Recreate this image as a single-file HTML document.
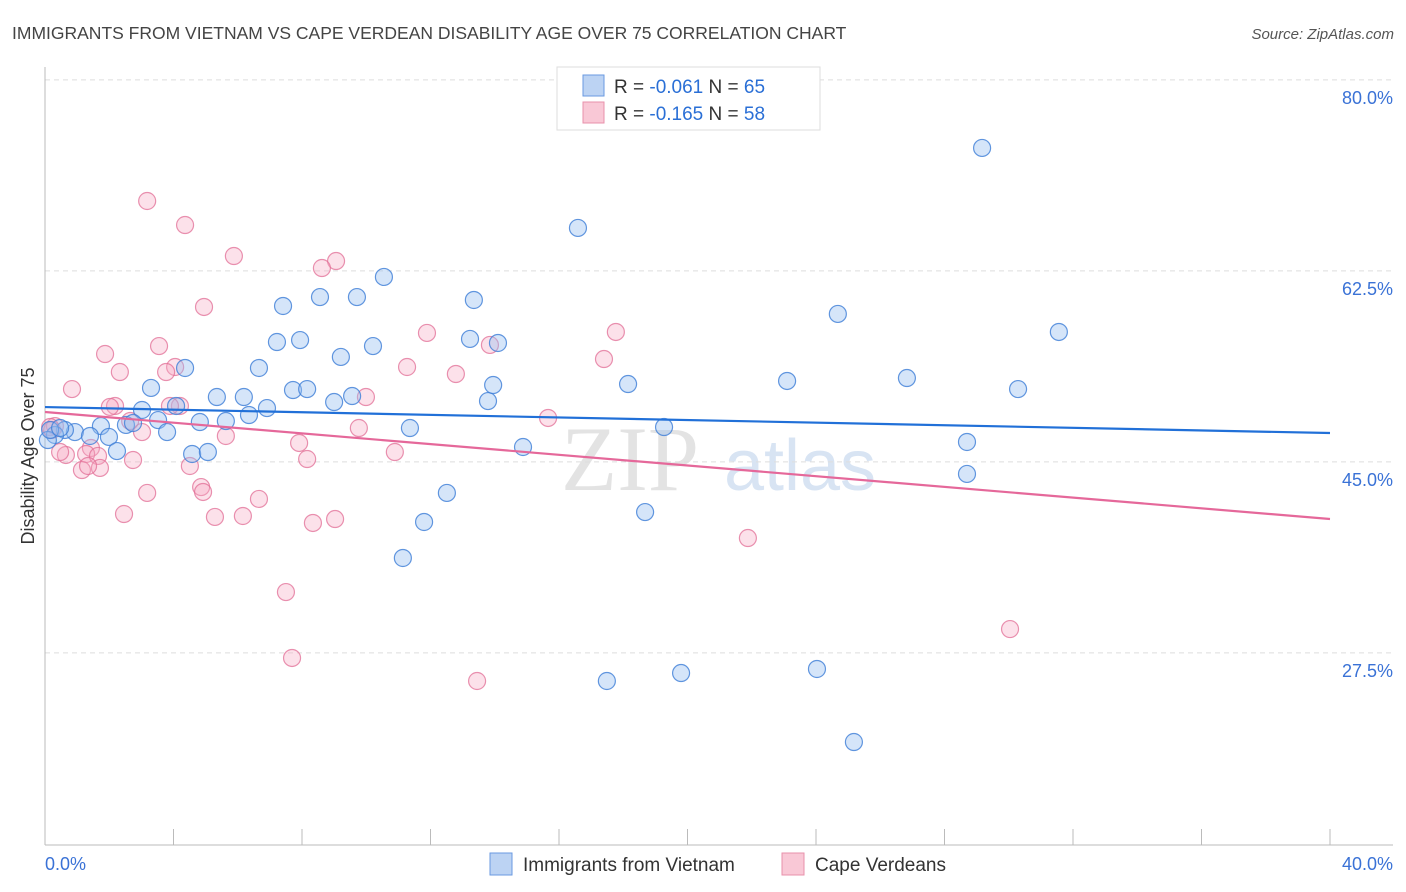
<!DOCTYPE html>
<html><head><meta charset="utf-8"><style>
body{margin:0;background:#fff;font-family:"Liberation Sans",sans-serif;}
svg{display:block}
</style></head><body>
<svg id="chart" width="1406" height="892" viewBox="0 0 1406 892">
<text x="12" y="39" font-size="17.5" fill="#444">IMMIGRANTS FROM VIETNAM VS CAPE VERDEAN DISABILITY AGE OVER 75 CORRELATION CHART</text>
<text x="1394" y="39" font-size="15" fill="#555" font-style="italic" text-anchor="end">Source: ZipAtlas.com</text>
<g>
<text x="630" y="490" font-size="92" fill="#ddd" font-family="Liberation Serif,serif" text-anchor="middle" opacity="0.8">ZIP</text>
<text x="800" y="490" font-size="72" fill="#c8d9ef" text-anchor="middle" opacity="0.7">atlas</text>
</g>
<g id="grid"></g>
<g id="axes"></g>
<g id="marks"></g>
<g>
<rect x="557" y="67" width="263" height="63" fill="#fff" stroke="#ddd"/>
<rect x="583" y="75" width="21" height="21" fill="#bcd3f3" stroke="#6a9ae0"/>
<rect x="583" y="102" width="21" height="21" fill="#f9c8d6" stroke="#e891ab"/>
<text x="614" y="93" font-size="19" fill="#333">R = <tspan fill="#2a6fd6">-0.061</tspan>    N = <tspan fill="#2a6fd6">65</tspan></text>
<text x="614" y="120" font-size="19" fill="#333">R = <tspan fill="#2a6fd6">-0.165</tspan>    N = <tspan fill="#2a6fd6">58</tspan></text>
</g>
<g>
<rect x="490" y="853" width="22" height="22" fill="#bcd3f3" stroke="#6a9ae0"/>
<text x="523" y="871" font-size="19" fill="#333">Immigrants from Vietnam</text>
<rect x="782" y="853" width="22" height="22" fill="#f9c8d6" stroke="#e891ab"/>
<text x="815" y="871" font-size="19" fill="#333">Cape Verdeans</text>
</g>
</svg>
<script>
const yTicks=[80,62.5,45,27.5];
const yTickLabels=["80.0%","62.5%","45.0%","27.5%"];
const xTickLabels=["0.0%","40.0%"];
const blueX=[29.17,16.59,24.68,31.56,7.41,8.56,9.71,10.55,13.35,7.22,7.94,9.21,10.21,13.23,14.10,3.30,4.36,5.35,6.19,6.66,6.91,7.72,8.16,9.00,9.56,11.36,13.79,13.95,18.15,23.10,26.83,30.29,28.70,28.70,14.88,19.27,18.68,12.51,11.80,11.14,17.49,19.80,24.03,25.18,3.02,3.52,4.08,4.82,5.63,6.35,1.74,1.99,2.52,2.74,3.80,2.24,4.58,5.07,0.93,0.62,1.40,0.31,0.09,0.16,0.47];
const blueY=[75.32,67.99,60.11,58.46,60.84,61.66,61.66,63.50,61.39,57.54,57.72,56.17,57.17,57.82,57.45,53.33,55.16,52.50,52.50,55.16,51.49,53.14,53.23,52.04,52.59,49.66,52.13,53.60,53.69,53.97,54.24,53.23,48.38,45.45,47.92,49.75,41.96,43.71,41.05,37.75,26.48,27.21,27.58,20.89,51.31,50.39,51.68,50.21,50.30,50.85,49.84,48.84,49.94,50.12,49.29,47.55,47.28,47.46,49.29,49.48,48.93,49.02,48.56,49.48,49.66];
const pinkX=[3.18,4.36,5.88,9.06,8.62,4.95,11.89,17.77,13.85,17.40,1.87,3.55,2.33,4.05,3.77,11.27,12.79,0.84,2.18,2.02,4.20,3.89,9.99,15.66,9.77,2.65,3.02,5.63,7.91,8.16,10.89,1.43,2.74,4.51,1.28,1.65,1.71,1.15,0.65,0.47,0.22,0.31,4.86,4.92,3.18,6.66,2.46,5.29,6.16,8.34,9.03,21.88,7.50,30.04,7.69,13.45,0.16,1.34];
const pinkY=[70.46,68.26,65.42,64.96,64.32,60.75,58.37,58.46,57.27,55.98,56.44,57.17,54.79,55.25,54.79,55.25,54.61,53.23,51.68,51.59,51.68,51.68,52.50,50.58,49.66,50.30,49.29,48.93,48.29,46.82,47.46,47.83,46.73,46.18,47.28,47.10,46.00,45.81,47.19,47.46,49.48,49.84,44.25,43.80,43.71,43.16,41.78,41.51,41.60,40.96,41.32,39.58,34.63,31.24,28.59,26.48,49.75,46.18];
const blueTrend=[51.58,49.2];
const pinkTrend=[51.13,41.32];
const xDomain=[0,40];
const NS="http://www.w3.org/2000/svg";
function sx(v){return 45+(v-xDomain[0])*(1285/(xDomain[1]-xDomain[0]));}
function sy(v){return 970-v*10.914;}
function mk(tag,attrs,parent){const e=document.createElementNS(NS,tag);for(const k in attrs)e.setAttribute(k,attrs[k]);parent.appendChild(e);return e;}
const grid=document.getElementById('grid'),axes=document.getElementById('axes'),marks=document.getElementById('marks');
yTicks.forEach((t,i)=>{
  const l=mk('line',{x1:45,x2:1393,y1:sy(t)-17,y2:sy(t)-17,stroke:'#ddd','stroke-dasharray':'5,4'},grid);
  
  
  const tx=mk('text',{x:1393,y:sy(t)+7,'font-size':18,fill:'#3a72d6','text-anchor':'end'},axes);
  tx.textContent=yTickLabels[i];
  
  
});
const la=mk('line',{x1:45,x2:45,y1:67,y2:845,stroke:'#bbb'},axes);


const ba=mk('line',{x1:45,x2:1393,y1:845,y2:845,stroke:'#bbb'},axes);


for(let k=1;k<=10;k++){
  const t=mk('line',{x1:sx(k*4),x2:sx(k*4),y1:829,y2:845,stroke:'#bbb'},axes);
  
  
}
const xl0=mk('text',{x:45,y:870,'font-size':18,fill:'#3a72d6'},axes);xl0.textContent=xTickLabels[0];


const xl1=mk('text',{x:1393,y:870,'font-size':18,fill:'#3a72d6','text-anchor':'end'},axes);xl1.textContent=xTickLabels[1];


const yt=mk('text',{x:34,y:456,'font-size':18,fill:'#333','text-anchor':'middle',transform:'rotate(-90 34 456)'},axes);
yt.textContent='Disability Age Over 75';


function pts(xs,ys,fill,stroke,name){
  xs.forEach((x,i)=>{
    const c=mk('circle',{cx:sx(x),cy:sy(ys[i]),r:8.5,fill:fill,stroke:stroke,'stroke-width':1.2},marks);
    
    
  });
}
pts(pinkX,pinkY,'rgba(246,170,195,0.35)','rgba(226,110,150,0.75)','cape-verdean-point');
pts(blueX,blueY,'rgba(150,190,240,0.4)','rgba(60,125,215,0.8)','vietnam-point');
const bl=mk('line',{x1:sx(xDomain[0]),x2:sx(xDomain[1]),y1:sy(blueTrend[0]),y2:sy(blueTrend[1]),stroke:'#2170d8','stroke-width':2.2},marks);


const pl=mk('line',{x1:sx(xDomain[0]),x2:sx(xDomain[1]),y1:sy(pinkTrend[0]),y2:sy(pinkTrend[1]),stroke:'#e5689a','stroke-width':2.2},marks);


</script>
</body></html>
